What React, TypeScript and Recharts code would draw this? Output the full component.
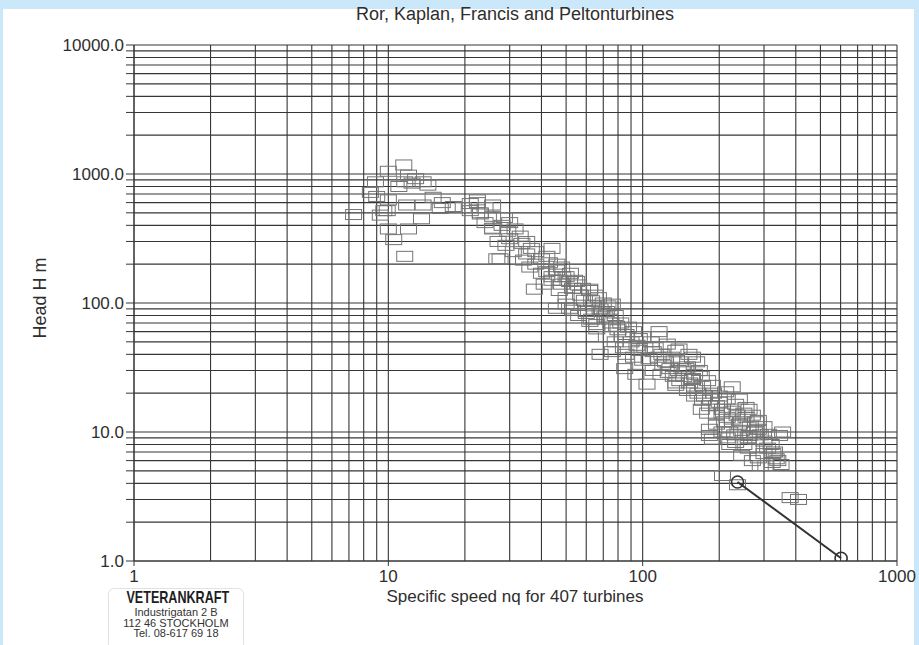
import { ScatterChart, Scatter, XAxis, YAxis, ReferenceLine } from "recharts";

// turbine samples: specific speed nq, head H (m)
const turbines: [number, number][] = [
  // low nq / high head (Pelton region)
  [11.5, 1175], [10, 1050], [12, 980], [11.6, 870], [12.4, 850], [13.7, 870], [14.3, 820], [8.9, 870],
  [9, 670], [10, 630], [9.6, 520], [9.9, 520], [11.8, 575], [13.7, 575], [16.3, 600], [15, 660],
  [13.5, 450], [7.3, 485], [10, 375], [12, 375], [10.5, 310], [11.6, 230], [9.3, 480], [8.5, 720],
  [12.8, 920], [11, 800], [16, 540], [18, 560],
  // Francis
  [19.7, 550], [22.4, 600], [23, 490], [25.7, 575], [25.7, 375], [26.7, 220], [22.4, 630], [21, 590],
  [24, 550], [23, 500], [25.7, 470], [28.6, 460], [30, 420], [25.7, 380], [29.5, 360], [31.5, 375],
  [30, 315], [33.5, 290], [36.5, 265], [44, 265], [27.5, 220], [35, 240], [40, 220], [38, 200],
  [43, 205], [45.8, 180], [41, 140], [37.5, 128], [48.5, 160], [51.6, 147], [56, 138], [47, 125],
  [45.8, 91], [51.6, 91], [61.8, 125], [63, 104], [67, 110], [72, 86], [76, 98], [60, 86], [63, 75],
  [33, 330], [35, 300], [38, 250], [42, 230], [46, 200], [48, 190], [52, 170], [54, 150], [58, 130],
  [65, 115], [70, 100], [73, 95], [78, 80], [82, 70], [88, 65], [92, 60],
  [21, 520], [24, 420], [28, 400], [27, 300], [29, 280], [31, 250], [34, 215], [36, 190], [40, 170],
  [42, 175], [44, 160], [44, 150], [47, 150], [48, 140], [50, 110], [53, 130], [57, 115], [59, 105],
  [53, 88], [56, 80], [62, 72], [64, 95], [66, 68], [68, 90], [71, 78], [72, 55], [75, 70], [78, 50],
  [79, 66], [83, 55], [84, 45], [90, 50], [92, 38], [95, 47],
  [50, 160], [55, 147], [62, 128], [50, 98], [60, 83], [69, 86], [74, 75], [66, 63], [80, 62],
  [86, 57], [97, 53], [116, 60], [68, 40], [76, 42], [86, 40], [97, 43], [106, 37], [119, 40],
  [135, 43], [152, 40], [85, 31], [94, 28], [104, 23.5], [128, 31], [148, 31], [163, 35], [135, 23],
  [157, 26], [172, 23],
  // Kaplan
  [116, 55], [139, 44], [157, 38], [123, 35], [143, 31], [167, 30], [135, 24], [157, 25.5], [188, 23],
  [212, 20.5], [225, 22.4], [172, 17.6], [200, 17], [232, 16.4], [262, 15], [195, 13.5], [225, 12.6],
  [255, 13], [285, 12.3], [183, 10.5], [205, 10], [245, 10.3], [285, 10.5], [312, 9.6], [188, 8.8],
  [232, 8.3], [278, 8.8], [355, 10],
  [100, 55], [108, 50], [112, 45], [125, 48], [130, 38], [140, 35], [150, 32], [160, 28], [170, 27],
  [180, 25], [190, 20], [200, 19], [215, 18], [240, 18], [250, 14], [270, 13.5], [300, 11],
  [100, 36], [102, 45], [110, 42], [110, 30], [115, 38], [118, 28], [120, 33], [126, 29], [132, 27],
  [138, 30], [140, 25], [145, 27], [150, 21], [153, 24], [160, 22], [160, 19], [165, 20], [170, 15],
  [175, 19], [180, 14], [185, 18], [195, 16], [195, 11.5], [205, 14], [215, 13], [215, 9], [225, 14.5],
  [230, 9.5], [235, 13.5], [245, 12], [250, 8], [265, 11], [270, 6], [275, 10], [290, 9.5], [300, 8.5],
  [310, 7.5], [325, 6.8], [335, 6.2],
  [183, 16], [206, 15], [255, 15.5], [183, 9.4], [220, 10], [262, 9.4], [278, 12], [345, 9.4],
  [245, 6.6], [285, 6.3], [323, 5.8], [350, 5.6], [305, 5.5], [206, 4.6], [236, 3.9], [380, 3.1],
  [410, 3.0], [320, 8], [330, 7], [300, 6.8], [260, 7.5], [220, 8], [210, 12], [240, 11.5], [260, 9],
  [340, 6], [290, 5.5],
];

// the marked turbine and its extension
const marked: [number, number][] = [[236, 4.1], [603, 1.05]];

const xTicks = [1, 10, 100, 1000];
const yTicks = [1, 10, 100, 1000, 10000];
const steps = [1, 2, 3, 4, 5, 6, 7, 8, 9];

const xGrid = [1, 10, 100].flatMap((d) => steps.map((s) => s * d)).concat([1000]);
const yGrid = [1, 10, 100, 1000].flatMap((d) => steps.map((s) => s * d)).concat([10000]);

const points = turbines.map(([x, y]) => ({ x, y }));
const markedPts = marked.map(([x, y]) => ({ x, y }));

const font = "'Liberation Sans', Arial, sans-serif";
const gridColor = "#363636";
const textColor = "#2e2e2e";

const Box = (p: any) => (
  <rect x={p.cx - 8} y={p.cy - 5} width={16} height={10} fill="none" stroke="#747474" strokeWidth={1} />
);

const Ring = (p: any) => (
  <circle cx={p.cx} cy={p.cy} r={6} fill="none" stroke="#333" strokeWidth={1.6} />
);

const XTick = (p: any) => (
  <text x={p.x} y={p.y} dy={14} textAnchor="middle" fontSize={17} fontFamily={font} fill={textColor}>
    {p.payload.value}
  </text>
);

const YTick = (p: any) =>
  yTicks.includes(p.payload.value) ? (
    <text x={p.x} y={p.y} dy={6} textAnchor="end" fontSize={17} fontFamily={font} fill={textColor}>
      {p.payload.value.toFixed(1)}
    </text>
  ) : (
    <g />
  );

export default function App() {
  return (
    <div
      style={{
        position: "absolute",
        left: 0,
        top: 0,
        width: 919,
        height: 645,
        background: "#cbe8fa",
        fontFamily: font,
      }}
    >
      <div style={{ position: "absolute", left: 3, top: 9, width: 911, height: 636, background: "#fff" }} />
      <div style={{ position: "absolute", left: 0, top: 0 }}>
        <ScatterChart width={919} height={645} margin={{ top: 45, right: 22, bottom: 54, left: 0 }}>
          {xGrid.map((v) => (
            <ReferenceLine key={"gx" + v} x={v} stroke={gridColor} strokeWidth={1.1} />
          ))}
          {yGrid.map((v) => (
            <ReferenceLine key={"gy" + v} y={v} stroke={gridColor} strokeWidth={1.1} />
          ))}
          <XAxis
            dataKey="x"
            type="number"
            scale="log"
            domain={[1, 1000]}
            ticks={xTicks}
            interval={0}
            height={30}
            tickSize={5}
            axisLine={{ stroke: gridColor }}
            tickLine={{ stroke: gridColor }}
            tick={XTick}
            allowDataOverflow
          />
          <YAxis
            dataKey="y"
            type="number"
            scale="log"
            domain={[1, 10000]}
            ticks={yGrid}
            interval={0}
            width={134}
            tickSize={8}
            axisLine={{ stroke: gridColor }}
            tickLine={{ stroke: gridColor }}
            tick={YTick}
            allowDataOverflow
          />
          <Scatter data={points} shape={Box} isAnimationActive={false} />
          <Scatter
            data={markedPts}
            shape={Ring}
            line={{ stroke: "#333", strokeWidth: 2 }}
            isAnimationActive={false}
          />
        </ScatterChart>
      </div>

      <div style={{ position: "absolute", left: 0, width: 1030, top: 4, textAlign: "center", fontSize: 18, color: textColor }}>
        Ror, Kaplan, Francis and Peltonturbines
      </div>
      <div
        style={{
          position: "absolute",
          left: 40,
          top: 298,
          transform: "translate(-50%, -50%) rotate(-90deg)",
          fontSize: 18,
          color: textColor,
          whiteSpace: "nowrap",
        }}
      >
        Head H m
      </div>
      <div style={{ position: "absolute", left: 0, width: 1030, top: 587, textAlign: "center", fontSize: 17, color: textColor }}>
        Specific speed nq for 407 turbines
      </div>

      <div
        style={{
          position: "absolute",
          left: 108,
          top: 588,
          width: 134,
          height: 60,
          border: "1px solid #e2e2e2",
          borderRadius: 6,
          textAlign: "center",
          color: "#333",
          lineHeight: "10.7px",
        }}
      >
        <div style={{ fontSize: 17, fontWeight: "bold", transform: "scaleX(0.74)", lineHeight: "18px", color: "#1e1e1e" }}>
          VETERANKRAFT
        </div>
        <div style={{ fontSize: 11 }}>Industrigatan 2 B</div>
        <div style={{ fontSize: 11 }}>112 46 STOCKHOLM</div>
        <div style={{ fontSize: 11 }}>Tel. 08-617 69 18</div>
      </div>
    </div>
  );
}
